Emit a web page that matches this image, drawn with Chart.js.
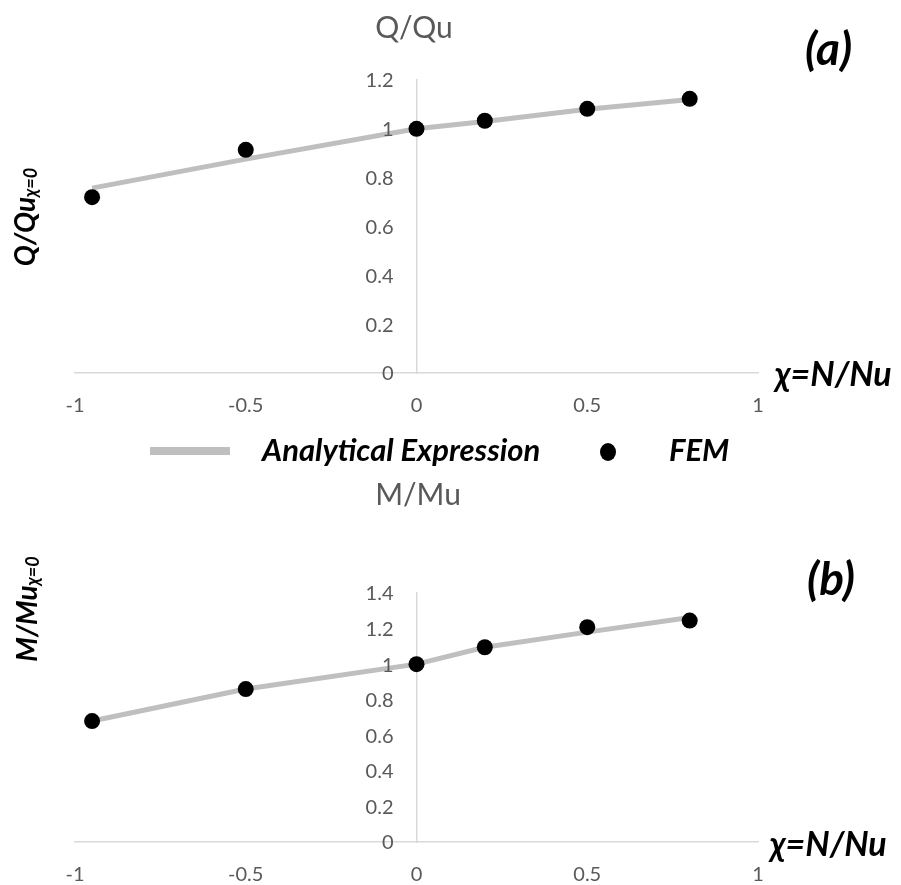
<!DOCTYPE html>
<html>
<head>
<meta charset="utf-8">
<script src="https://cdn.jsdelivr.net/npm/chart.js@4/dist/chart.umd.min.js"></script>
<style>
  html, body { margin: 0; padding: 0; background: #ffffff; }
  #wrap { position: relative; width: 901px; height: 885px; }
  canvas { position: absolute; left: 0; }
  #cq { top: 0; }
  #cm { top: 470px; }
</style>
</head>
<body>
<div id="wrap">
  <canvas id="cq" width="901" height="470"></canvas>
  <canvas id="cm" width="901" height="415"></canvas>
</div>
<script>
// Normalised axial load ratio χ = N/Nu at which both series are evaluated
const chi = [-0.95, -0.5, 0, 0.2, 0.5, 0.8];

// (a) shear capacity ratio Q/Qu(χ=0)
const shearAnalytical = [0.757, 0.876, 1.0, 1.03, 1.08, 1.12];
const shearFEM        = [0.72, 0.914, 1.0, 1.033, 1.082, 1.123];

// (b) bending capacity ratio M/Mu(χ=0)
const momentAnalytical = [0.68, 0.86, 1.0, 1.095, 1.18, 1.262];
const momentFEM        = [0.68, 0.86, 1.0, 1.095, 1.208, 1.245];

// Tick labels
const xTicks = [-1, -0.5, 0, 0.5, 1];
const yTicksShear = [0, 0.2, 0.4, 0.6, 0.8, 1, 1.2];
const yTicksMoment = [0, 0.2, 0.4, 0.6, 0.8, 1, 1.2, 1.4];

const seriesNames = ['Analytical Expression', 'FEM'];

const GREY_TEXT = '#595959';
const AXIS_LINE = '#d9d9d9';
const LINE_COLOR = '#bfbfbf';
const FONT = 'Lato, "Open Sans", sans-serif';
const TICK_FONT = '20px ' + FONT;

const toPoints = (xs, ys) => xs.map((x, i) => ({ x: x, y: ys[i] }));

// Panel texts: y tick labels beside the centred axis, title, panel tag,
// rotated y title with subscript, x title and the legend
const panelText = {
  id: 'panelText',
  afterDraw(chart, args, o) {
    const ctx = chart.ctx;
    const xs = chart.scales.x, ys = chart.scales.y;
    ctx.save();
    ctx.textBaseline = 'middle';

    // y tick labels, right-aligned left of the y axis (which sits at x = 0)
    ctx.fillStyle = GREY_TEXT;
    ctx.font = TICK_FONT;
    ctx.textAlign = 'right';
    const axisX = xs.getPixelForValue(0);
    ys.ticks.forEach(t => {
      ctx.fillText(String(t.value), axisX - 23, ys.getPixelForValue(t.value) + 1);
    });

    // title
    ctx.font = '30px ' + FONT;
    ctx.textAlign = 'center';
    ctx.fillText(o.title, o.titleX, o.titleY);

    // panel tag
    ctx.fillStyle = '#000';
    ctx.font = 'italic bold 46px ' + FONT;
    ctx.textAlign = 'left';
    ctx.fillText(o.tag, o.tagX, o.tagY);

    // x title
    ctx.font = 'italic bold 34px ' + FONT;
    ctx.fillText('χ=N/Nu', o.xTitleX, o.xTitleY);

    // y title, rotated, with subscript
    ctx.save();
    ctx.translate(o.yTitleX, o.yTitleY);
    ctx.rotate(-Math.PI / 2);
    ctx.textBaseline = 'alphabetic';
    ctx.font = 'italic bold 28px ' + FONT;
    const main = o.yTitle;
    const sub = 'χ=0';
    const wMain = ctx.measureText(main).width;
    ctx.font = 'italic bold 18px ' + FONT;
    const wSub = ctx.measureText(sub).width;
    const total = wMain + wSub;
    ctx.font = 'italic bold 28px ' + FONT;
    ctx.fillText(main, -total / 2, 10);
    ctx.font = 'italic bold 18px ' + FONT;
    ctx.fillText(sub, -total / 2 + wMain, 12);
    ctx.restore();

    // legend
    if (o.legend) {
      const ds = chart.data.datasets;
      const lineDs = ds[1], dotDs = ds[0];
      const ly = o.legendY;
      ctx.strokeStyle = lineDs.borderColor;
      ctx.lineWidth = 8;
      ctx.beginPath();
      ctx.moveTo(150, ly);
      ctx.lineTo(230, ly);
      ctx.stroke();
      ctx.fillStyle = '#000';
      ctx.font = 'italic bold 31px ' + FONT;
      ctx.textBaseline = 'middle';
      ctx.fillText(lineDs.label, 262, ly);
      ctx.fillStyle = dotDs.backgroundColor;
      ctx.beginPath();
      ctx.ellipse(608, ly + 1, 8, 9, 0, 0, Math.PI * 2);
      ctx.fill();
      ctx.fillStyle = '#000';
      ctx.fillText(dotDs.label, 669, ly);
    }
    ctx.restore();
  }
};

function makeChart(id, analytical, fem, yTicks, yMax, padding, texts) {
  return new Chart(document.getElementById(id), {
    type: 'scatter',
    data: {
      datasets: [
        {
          label: seriesNames[1],
          data: toPoints(chi, fem),
          showLine: false,
          pointRadius: 8,
          pointHoverRadius: 8,
          backgroundColor: '#000000',
          borderColor: '#000000',
          borderWidth: 0
        },
        {
          label: seriesNames[0],
          data: toPoints(chi, analytical),
          showLine: true,
          pointRadius: 0,
          borderColor: LINE_COLOR,
          backgroundColor: LINE_COLOR,
          borderWidth: 5,
          tension: 0
        }
      ]
    },
    options: {
      responsive: false,
      animation: false,
      events: [],
      layout: { padding: padding },
      plugins: {
        legend: { display: false },
        title: { display: false },
        tooltip: { enabled: false },
        panelText: texts
      },
      scales: {
        x: {
          type: 'linear',
          min: -1,
          max: 1,
          position: { y: 0 },
          afterBuildTicks: (s) => { s.ticks = xTicks.map(v => ({ value: v })); },
          grid: { display: false, drawTicks: false },
          border: { display: true, color: AXIS_LINE, width: 1.5 },
          ticks: {
            color: GREY_TEXT,
            font: { family: FONT, size: 20 },
            padding: 21,
            maxRotation: 0,
            callback: (v) => String(v)
          }
        },
        y: {
          type: 'linear',
          min: 0,
          max: yMax,
          position: { x: 0 },
          afterBuildTicks: (s) => { s.ticks = yTicks.map(v => ({ value: v })); },
          grid: { display: false, drawTicks: false },
          border: { display: true, color: AXIS_LINE, width: 1.5 },
          ticks: { display: false }
        }
      }
    },
    plugins: [panelText]
  });
}

makeChart('cq', shearAnalytical, shearFEM, yTicksShear, 1.2,
  { left: 75, right: 143, top: 80, bottom: 97 },
  { title: 'Q/Qu', titleX: 414, titleY: 28, tag: '(a)', tagX: 805, tagY: 50,
    xTitleX: 775, xTitleY: 375, yTitle: 'Q/Qu', yTitleX: 25, yTitleY: 217,
    legend: true, legendY: 451 });

makeChart('cm', momentAnalytical, momentFEM, yTicksMoment, 1.4,
  { left: 75, right: 143, top: 123, bottom: 43 },
  { title: 'M/Mu', titleX: 418, titleY: 25, tag: '(b)', tagX: 807, tagY: 110,
    xTitleX: 770, xTitleY: 375, yTitle: 'M/Mu', yTitleX: 27, yTitleY: 139,
    legend: false });
</script>
</body>
</html>
